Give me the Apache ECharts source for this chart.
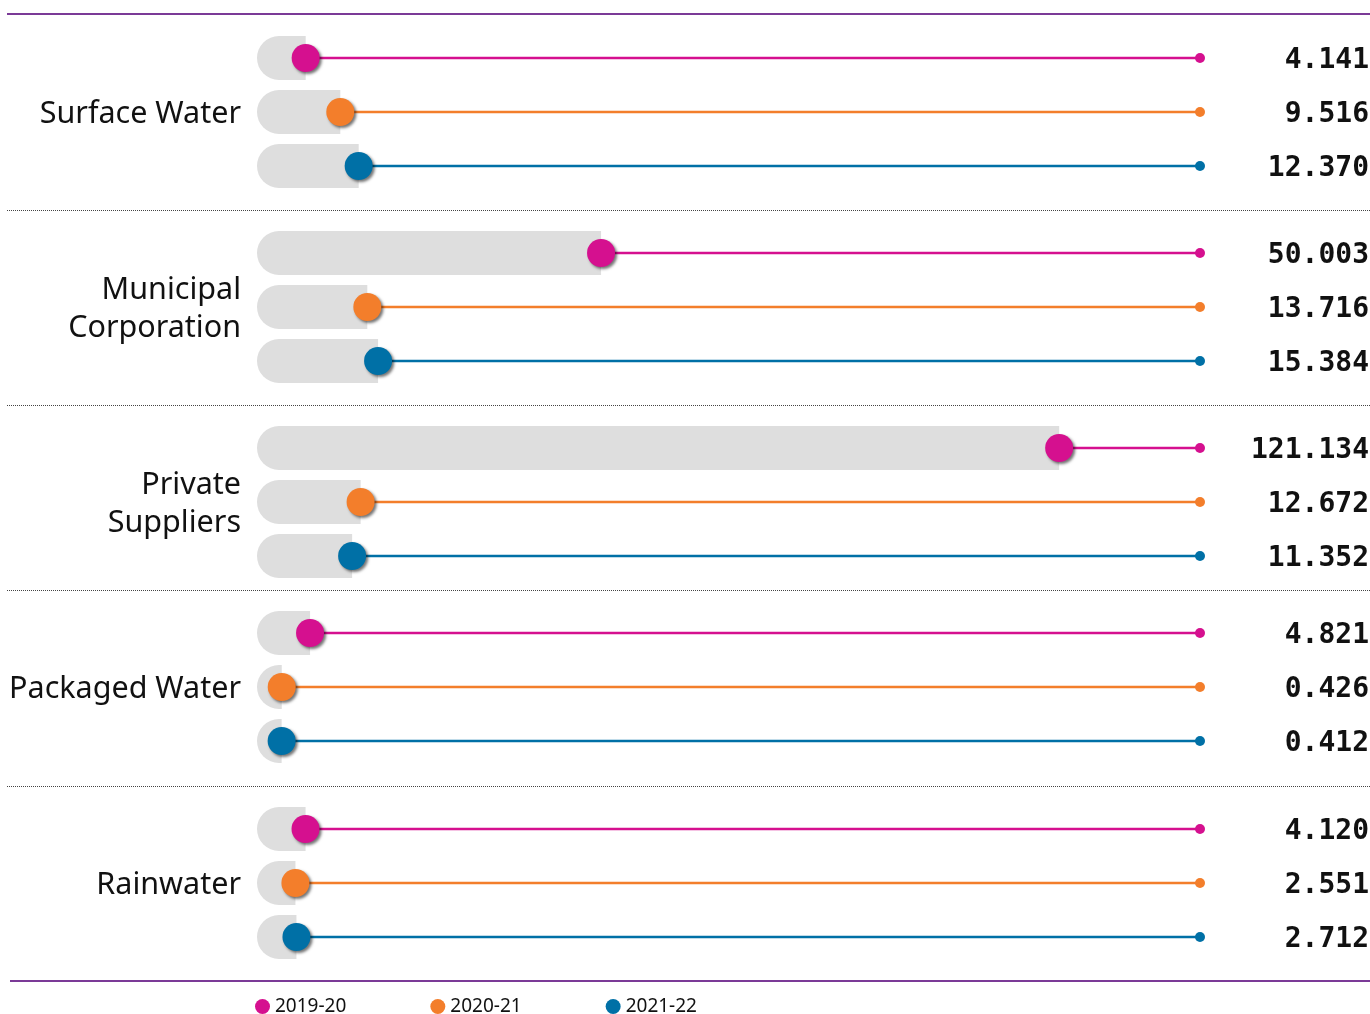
<!DOCTYPE html>
<html>
<head>
<meta charset="utf-8">
<script src="https://cdn.jsdelivr.net/npm/echarts@6/dist/echarts.min.js"></script>
<style>
  html, body { margin: 0; padding: 0; background: #fff; }
  #chart { width: 1370px; height: 1014px; }
</style>
</head>
<body>
<div id="chart"></div>
<script>
// Water sources and yearly figures
const sources = ['Surface Water', 'Municipal\nCorporation', 'Private\nSuppliers', 'Packaged Water', 'Rainwater'];
const years = ['2019-20', '2020-21', '2021-22'];
const values2019 = [4.141, 50.003, 121.134, 4.821, 4.120];
const values2020 = [9.516, 13.716, 12.672, 0.426, 2.551];
const values2021 = [12.370, 15.384, 11.352, 0.412, 2.712];

const yearValues = [values2019, values2020, values2021];
const yearColors = ['#d5108f', '#f37e2b', '#0070a6'];
const barGray = '#dedede';

// one grid per source, three rows each
const gridTops = [31, 226, 421, 606, 802];
const rowBand = 54;
const gridLeft = 279;
const gridRight = 170;
const xMax = 143;

const grids = [], xAxes = [], yAxes = [], series = [];

sources.forEach((name, g) => {
  grids.push({ left: gridLeft, right: gridRight, top: gridTops[g], height: rowBand * 3 });
  xAxes.push({
    gridIndex: g, type: 'value', min: 0, max: xMax,
    show: false
  });
  // rows for the three years
  yAxes.push({
    gridIndex: g, type: 'category', data: years, inverse: true,
    show: false
  });

  years.forEach((yr, y) => {
    const color = yearColors[y];
    series.push({
      type: 'custom',
      name: yr,
      xAxisIndex: g,
      yAxisIndex: g,
      itemStyle: { color: color },
      data: [[yearValues[y][g], y]],
      renderItem: function (params, api) {
        const v = api.value(0);
        const end = api.coord([v, api.value(1)]);
        const start = api.coord([0, api.value(1)]);
        const cs = params.coordSys;
        const lineEnd = cs.x + cs.width;
        const h = 44, r = h / 2;
        const children = [
          {
            type: 'rect',
            shape: { x: start[0] - r, y: end[1] - r, width: end[0] - start[0] + r, height: h, r: [r, 0, 0, r] },
            style: { fill: barGray }
          },
          {
            type: 'line',
            shape: { x1: end[0], y1: end[1], x2: lineEnd, y2: end[1] },
            style: { stroke: color, lineWidth: 2.5 }
          },
          {
            type: 'circle',
            shape: { cx: lineEnd, cy: end[1], r: 5 },
            style: { fill: color }
          },
          {
            type: 'circle',
            shape: { cx: end[0], cy: end[1], r: 14 },
            style: {
              fill: color,
              shadowBlur: 3, shadowOffsetX: 2, shadowOffsetY: 2,
              shadowColor: 'rgba(0,0,0,0.55)'
            }
          },
          {
            type: 'text',
            x: 1369, y: end[1] + 3,
            style: {
              text: v.toFixed(3),
              align: 'right', verticalAlign: 'middle',
              font: 'bold 28px "DejaVu Sans Mono"',
              fill: '#111'
            }
          }
        ];
        // source name beside the middle row
        if (y === 1) {
          children.push({
            type: 'text',
            x: start[0] - 38, y: end[1] + 2,
            style: {
              text: name,
              align: 'right', verticalAlign: 'middle',
              font: '30.5px "Noto Sans"', lineHeight: 38,
              fill: '#111'
            }
          });
        }
        return { type: 'group', children: children };
      }
    });
  });
});

// frame rules and dotted dividers between sources
const dividerYs = [210, 405, 590, 786];
const graphics = [
  { type: 'line', shape: { x1: 7, y1: 14, x2: 1370, y2: 14 }, style: { stroke: '#7b3a97', lineWidth: 2 } },
  { type: 'line', shape: { x1: 10, y1: 981, x2: 1370, y2: 981 }, style: { stroke: '#7b3a97', lineWidth: 2 } }
];
dividerYs.forEach(y => {
  graphics.push({
    type: 'line', shape: { x1: 7, y1: y + 0.5, x2: 1370, y2: y + 0.5 },
    style: { stroke: '#444', lineWidth: 1, lineDash: [1, 1] }
  });
});

const chart = echarts.init(document.getElementById('chart'), null, { renderer: 'canvas' });
chart.setOption({
  animation: false,
  grid: grids,
  xAxis: xAxes,
  yAxis: yAxes,
  legend: {
    data: years.map((yr, i) => ({ name: yr, itemStyle: { color: yearColors[i] } })),
    left: 255, top: 997, padding: 0,
    icon: 'circle', itemWidth: 15, itemHeight: 15, itemGap: 84,
    textStyle: { fontFamily: 'Noto Sans', fontSize: 19, color: '#111' }
  },
  graphic: graphics,
  series: series
});
</script>
</body>
</html>
